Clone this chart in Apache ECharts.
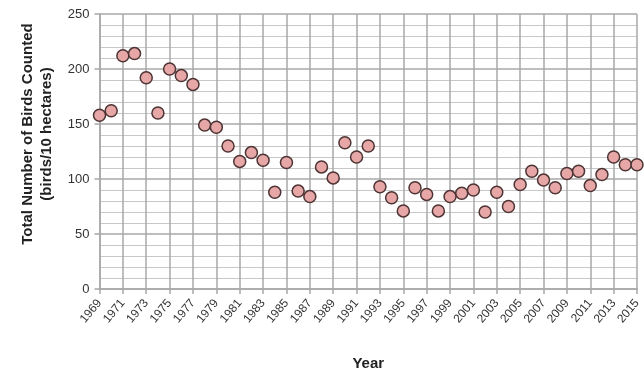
<!DOCTYPE html>
<html><head><meta charset="utf-8">
<script src="https://cdn.jsdelivr.net/npm/echarts@6/dist/echarts.min.js"></script>
<style>html,body{margin:0;padding:0;background:#fff}#c{width:644px;height:376px}</style>
</head><body><div id="c"></div>
<script>
const years = [];
for (let y = 1969; y <= 2015; y++) years.push(String(y));
const birds = [158,162,212,214,192,160,200,194,186,149,147,130,116,124,117,88,115,89,84,111,101,133,120,130,93,83,71,92,86,71,84,87,90,70,88,75,95,107,99,92,105,107,94,104,120,113,113];
const yTicks = [0,50,100,150,200,250];

const chart = echarts.init(document.getElementById('c'), null, {renderer:'canvas'});
chart.setOption({
  animation:false,
  textStyle:{fontFamily:'Liberation Sans, Arial, sans-serif'},
  grid:{left:99.5, right:7, top:14, bottom:76},
  xAxis:{
    type:'category', data:years, boundaryGap:false,
    axisLine:{show:true, lineStyle:{color:'#a8a8a8', width:1.5}},
    axisTick:{show:true, interval:1, length:5, lineStyle:{color:'#a8a8a8', width:1.5}},
    axisLabel:{interval:1, rotate:50, fontSize:12, color:'#333', margin:12},
    splitLine:{show:true, interval:1, lineStyle:{color:'#a8a8a8', width:1.5}},
    name:'Year', nameLocation:'middle', nameGap:67,
    nameTextStyle:{fontWeight:'bold', fontSize:15, color:'#222'}
  },
  yAxis:{
    type:'value', min:yTicks[0], max:yTicks[yTicks.length-1], interval:50,
    axisLine:{show:true, lineStyle:{color:'#a8a8a8', width:1.5}},
    axisTick:{show:true, length:5, lineStyle:{color:'#a8a8a8', width:1.5}},
    axisLabel:{fontSize:13, color:'#333', margin:10},
    splitLine:{show:true, lineStyle:{color:'#a8a8a8', width:1.5}},
    minorTick:{show:false, splitNumber:5},
    minorSplitLine:{show:true, lineStyle:{color:'#c8c8c8', width:1.2}}
  },
  graphic:[{
    type:'text', x:37, y:134, rotation:Math.PI/2,
    style:{text:'Total Number of Birds Counted\n(birds/10 hectares)', align:'center', verticalAlign:'middle',
      font:'bold 15px "Liberation Sans", Arial, sans-serif', fill:'#222', lineHeight:19}
  }],
  series:[{
    type:'scatter', data:birds, symbol:'circle', symbolSize:12,
    itemStyle:{color:'#e7a7a7', borderColor:'#4e3434', borderWidth:1.5, opacity:1}
  }]
});
</script></body></html>
